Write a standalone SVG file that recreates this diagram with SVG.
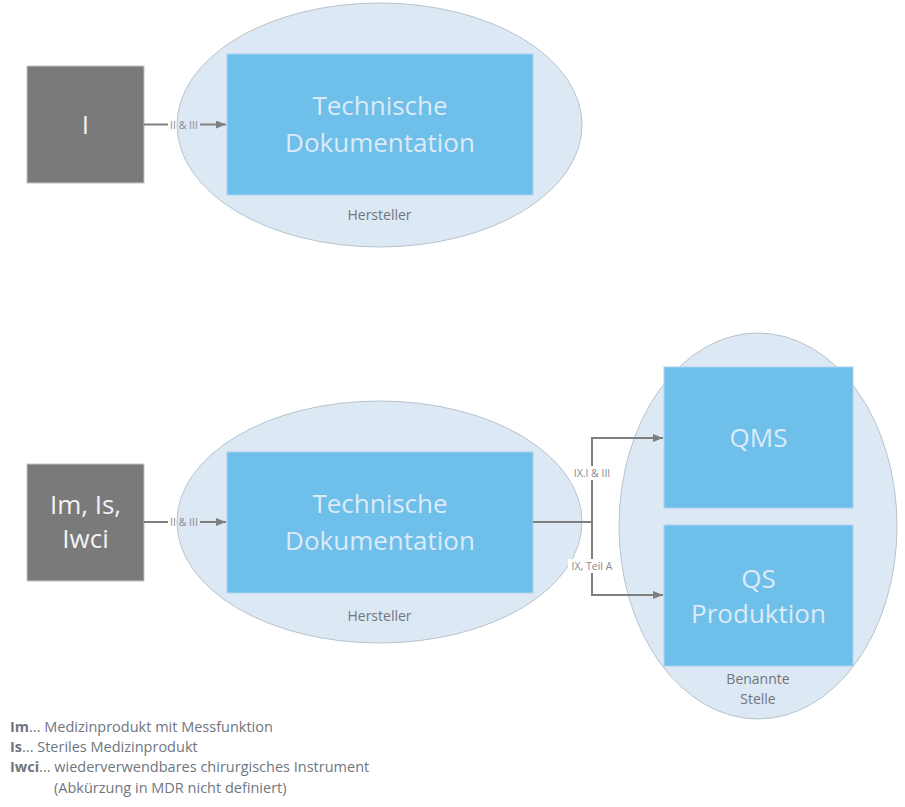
<svg xmlns="http://www.w3.org/2000/svg" width="905" height="807" viewBox="0 0 905 807">
<defs>
<style>
.ell{fill:#dce8f4;stroke:#b9c3cd;stroke-width:1}
.box{fill:#6ebfea;stroke:#a9d3ee;stroke-width:1}
.gray{fill:#7a7a7a;stroke:#c4c4c4;stroke-width:1}
.bt{font-family:"Open Sans","Noto Sans",sans-serif;font-size:26px;fill:#dcebf7;text-anchor:middle}
.gt{font-family:"Open Sans","Noto Sans",sans-serif;font-size:26px;fill:#f2f2f2;text-anchor:middle}
.lab{font-family:"Open Sans","Noto Sans",sans-serif;font-size:14px;fill:#6f7680;text-anchor:middle}
.cl{font-family:"Open Sans","Noto Sans",sans-serif;font-size:10.5px;fill:#8a8a8a;text-anchor:middle}
.lg{font-family:"Open Sans","Noto Sans",sans-serif;font-size:14.5px;fill:#6f7680}
.con{fill:none;stroke:#7f7f7f;stroke-width:2}
</style>
<marker id="arr" markerWidth="10" markerHeight="8" refX="10" refY="4" orient="auto" markerUnits="userSpaceOnUse">
<path d="M0,0 L10,4 L0,8 Z" fill="#7f7f7f"/>
</marker>
</defs>

<g id="ellipse-hersteller-1">
<ellipse class="ell" cx="379.5" cy="125" rx="202.5" ry="122"/>
<text class="lab" x="379.5" y="220">Hersteller</text>
</g>
<g id="ellipse-hersteller-2">
<ellipse class="ell" cx="379.5" cy="522" rx="202.5" ry="121"/>
<text class="lab" x="379.5" y="621">Hersteller</text>
</g>
<g id="ellipse-benannte-stelle">
<ellipse class="ell" cx="758" cy="526" rx="139" ry="193"/>
<text class="lab" x="758" y="684">Benannte</text>
<text class="lab" x="758" y="704">Stelle</text>
</g>

<g id="node-I">
<rect class="gray" x="27" y="66" width="117" height="117"/>
<text class="gt" x="85.5" y="134">I</text>
</g>
<g id="node-TD-1">
<rect class="box" x="227" y="54" width="306" height="141"/>
<text class="bt" x="380" y="115">Technische</text>
<text class="bt" x="380" y="152">Dokumentation</text>
</g>

<g id="node-Im">
<rect class="gray" x="27" y="464" width="117" height="117"/>
<text class="gt" x="85.5" y="514">Im, Is,</text>
<text class="gt" x="85.5" y="548">Iwci</text>
</g>
<g id="node-TD-2">
<rect class="box" x="227" y="452" width="306" height="141"/>
<text class="bt" x="380" y="513">Technische</text>
<text class="bt" x="380" y="550">Dokumentation</text>
</g>
<g id="node-QMS">
<rect class="box" x="664" y="367" width="189" height="141"/>
<text class="bt" x="758.5" y="447">QMS</text>
</g>
<g id="node-QS">
<rect class="box" x="664" y="525" width="189" height="141"/>
<text class="bt" x="758.5" y="588">QS</text>
<text class="bt" x="758.5" y="623">Produktion</text>
</g>

<g id="connectors">
<path class="con" d="M144,124.5 H168"/>
<path class="con" d="M200,124.5 H226" marker-end="url(#arr)"/>
<text class="cl" x="184" y="128.5">II &amp; III</text>
<path class="con" d="M144,522 H168"/>
<path class="con" d="M200,522 H226" marker-end="url(#arr)"/>
<text class="cl" x="184" y="526">II &amp; III</text>
<path class="con" d="M533,522 H592 V438 H663" marker-end="url(#arr)"/>
<path class="con" d="M592,522 V595 H663" marker-end="url(#arr)"/>
<rect x="570" y="466" width="44" height="14" fill="#ffffff"/>
<text class="cl" x="592" y="477">IX.I &amp; III</text>
<rect x="568" y="559" width="48" height="14" fill="#ffffff"/>
<text class="cl" x="592" y="570">IX, Teil A</text>
</g>

<g id="legend">
<text class="lg" x="10" y="732"><tspan font-weight="bold">Im</tspan>... Medizinprodukt mit Messfunktion</text>
<text class="lg" x="10" y="752"><tspan font-weight="bold">Is</tspan>... Steriles Medizinprodukt</text>
<text class="lg" x="10" y="772"><tspan font-weight="bold">Iwci</tspan>... wiederverwendbares chirurgisches Instrument</text>
<text class="lg" x="54" y="793">(Abkürzung in MDR nicht definiert)</text>
</g>
</svg>
